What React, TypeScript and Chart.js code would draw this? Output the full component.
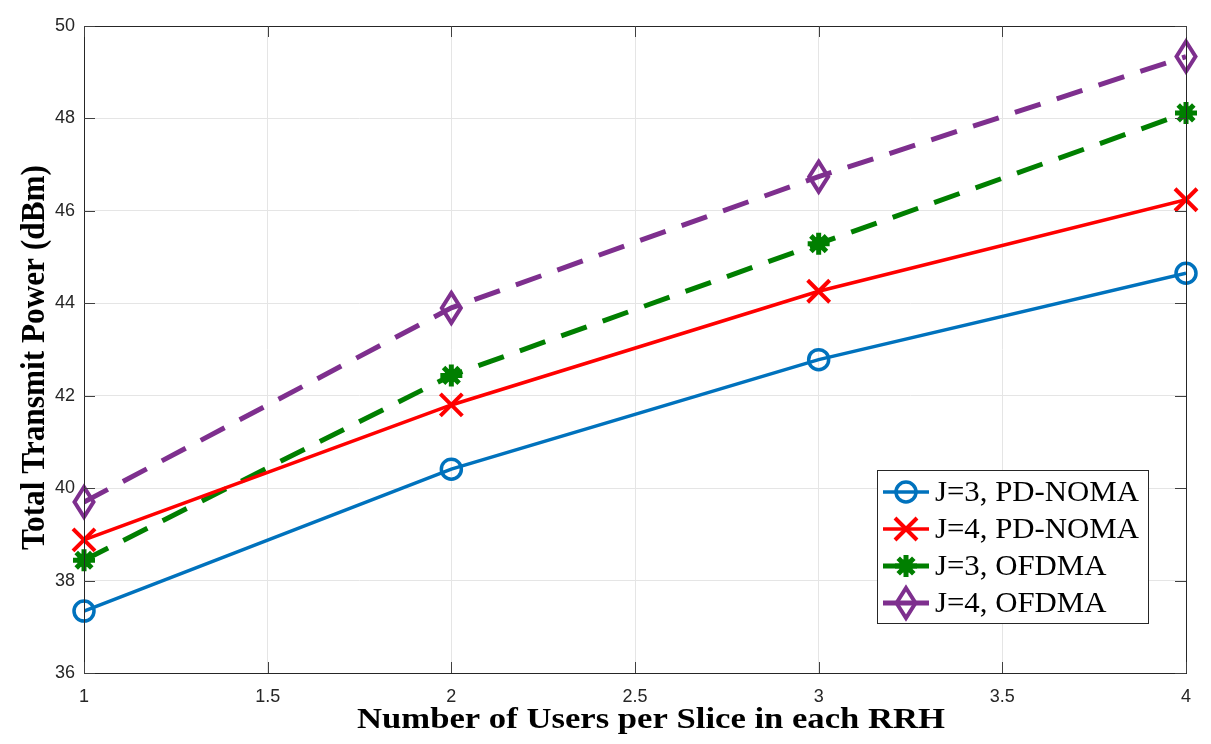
import React, { useEffect, useRef } from "react";
import { Chart, registerables } from "chart.js";

Chart.register(...registerables);

const usersPerSlice = [1, 2, 3, 4];
const j3Noma = [37.34, 40.41, 42.78, 44.65];
const j4Noma = [38.88, 41.8, 44.26, 46.24];
const j3Ofdma = [38.44, 42.44, 45.29, 48.12];
const j4Ofdma = [39.7, 43.9, 46.74, 49.34];
const seriesLabels = ["J=3, PD-NOMA", "J=4, PD-NOMA", "J=3, OFDMA", "J=4, OFDMA"];
const xTicks = [1, 1.5, 2, 2.5, 3, 3.5, 4];
const yTicks = [36, 38, 40, 42, 44, 46, 48, 50];
const xTitle = "Number of Users per Slice in each RRH";
const yTitle = "Total Transmit Power (dBm)";

const BLUE = "#0072BD";
const RED = "#FF0000";
const GREEN = "#007F00";
const PURPLE = "#7E2F8E";
const SERIF = "'Liberation Serif', 'Times New Roman', serif";

type MarkerKind = "circle" | "cross" | "star" | "diamond";

function drawMarker(ctx: CanvasRenderingContext2D, kind: MarkerKind, x: number, y: number, color: string) {
  ctx.save();
  ctx.strokeStyle = color;
  ctx.fillStyle = color;
  ctx.setLineDash([]);
  ctx.lineCap = "butt";
  ctx.lineJoin = "miter";
  if (kind === "circle") {
    ctx.lineWidth = 3.5;
    ctx.beginPath();
    ctx.arc(x, y, 10, 0, Math.PI * 2);
    ctx.stroke();
  } else if (kind === "cross") {
    ctx.lineWidth = 4;
    const r = 11;
    ctx.beginPath();
    ctx.moveTo(x - r, y - r);
    ctx.lineTo(x + r, y + r);
    ctx.moveTo(x + r, y - r);
    ctx.lineTo(x - r, y + r);
    ctx.stroke();
  } else if (kind === "star") {
    ctx.lineWidth = 5;
    const r = 11;
    ctx.beginPath();
    for (let i = 0; i < 4; i++) {
      const a = (i * Math.PI) / 4;
      ctx.moveTo(x - r * Math.cos(a), y - r * Math.sin(a));
      ctx.lineTo(x + r * Math.cos(a), y + r * Math.sin(a));
    }
    ctx.stroke();
    ctx.beginPath();
    ctx.arc(x, y, 7, 0, Math.PI * 2);
    ctx.fill();
  } else {
    ctx.lineWidth = 4;
    const rx = 9.5;
    const ry = 15;
    ctx.beginPath();
    ctx.moveTo(x, y - ry);
    ctx.lineTo(x + rx, y);
    ctx.lineTo(x, y + ry);
    ctx.lineTo(x - rx, y);
    ctx.closePath();
    ctx.stroke();
  }
  ctx.restore();
}

// Draws text starting at (x, y) stretched horizontally so it spans `width` pixels.
function fitText(ctx: CanvasRenderingContext2D, text: string, x: number, y: number, width: number) {
  const w = ctx.measureText(text).width;
  ctx.save();
  ctx.translate(x, y);
  ctx.scale(width / w, 1);
  ctx.fillText(text, 0, 0);
  ctx.restore();
}

const markerKinds: MarkerKind[] = ["circle", "cross", "star", "diamond"];
const colors = [BLUE, RED, GREEN, PURPLE];
const dashes = [[], [], [27, 17], [27, 17]];

const App: React.FC = () => {
  const canvasRef = useRef<HTMLCanvasElement | null>(null);

  useEffect(() => {
    if (!canvasRef.current) return;
    const values = [j3Noma, j4Noma, j3Ofdma, j4Ofdma];

    const framePlugin = {
      id: "frameAndLegend",
      afterDatasetsDraw(chart: any) {
        const ctx: CanvasRenderingContext2D = chart.ctx;
        const { left, right, top, bottom } = chart.chartArea;
        const xs = chart.scales.x;
        const ys = chart.scales.y;

        // markers on the data points
        values.forEach((vals, i) => {
          vals.forEach((v, k) => {
            drawMarker(ctx, markerKinds[i], xs.getPixelForValue(usersPerSlice[k]), ys.getPixelForValue(v), colors[i]);
          });
        });

        // axes box
        ctx.save();
        ctx.strokeStyle = "#262626";
        ctx.lineWidth = 1;
        ctx.setLineDash([]);
        ctx.strokeRect(Math.round(left) + 0.5, Math.round(top) + 0.5, Math.round(right - left), Math.round(bottom - top));

        // inward tick marks on all four sides
        ctx.strokeStyle = "#404040";
        const tl = 11;
        xTicks.forEach((t) => {
          const px = Math.round(xs.getPixelForValue(t)) + 0.5;
          ctx.beginPath();
          ctx.moveTo(px, bottom);
          ctx.lineTo(px, bottom - tl);
          ctx.moveTo(px, top);
          ctx.lineTo(px, top + tl);
          ctx.stroke();
        });
        yTicks.forEach((t) => {
          const py = Math.round(ys.getPixelForValue(t)) + 0.5;
          ctx.beginPath();
          ctx.moveTo(left, py);
          ctx.lineTo(left + tl, py);
          ctx.moveTo(right, py);
          ctx.lineTo(right - tl, py);
          ctx.stroke();
        });
        ctx.restore();

        // axis titles
        ctx.save();
        ctx.fillStyle = "#000000";
        ctx.textBaseline = "alphabetic";
        ctx.textAlign = "left";
        ctx.font = `bold 30px ${SERIF}`;
        fitText(ctx, xTitle, 357, 728, 588);
        ctx.translate(44, 550);
        ctx.scale(1.12, 1);
        ctx.rotate(-Math.PI / 2);
        ctx.font = `bold 31px ${SERIF}`;
        const yw = ctx.measureText(yTitle).width;
        ctx.scale(385 / yw, 1);
        ctx.fillText(yTitle, 0, 0);
        ctx.restore();

        // legend box
        const bx = 877, by = 470, bw = 271, bh = 153;
        ctx.save();
        ctx.fillStyle = "#ffffff";
        ctx.fillRect(bx, by, bw, bh);
        ctx.strokeStyle = "#262626";
        ctx.lineWidth = 1;
        ctx.strokeRect(bx + 0.5, by + 0.5, bw, bh);
        const rowY = [492, 529, 566, 603];
        const textW = [204, 204, 172, 172];
        ctx.font = `29px ${SERIF}`;
        ctx.textBaseline = "middle";
        ctx.textAlign = "left";
        seriesLabels.forEach((lab, i) => {
          const y = rowY[i];
          ctx.strokeStyle = colors[i];
          ctx.lineWidth = i < 2 ? 3.5 : 5;
          ctx.setLineDash([]);
          ctx.beginPath();
          ctx.moveTo(883, y);
          ctx.lineTo(929, y);
          ctx.stroke();
          drawMarker(ctx, markerKinds[i], 906, y, colors[i]);
          ctx.fillStyle = "#000000";
          const w = ctx.measureText(lab).width;
          fitText(ctx, lab, 935, y + 1, i < 2 ? textW[i] : w * (204 / ctx.measureText(seriesLabels[0]).width));
        });
        ctx.restore();
      },
    };

    const chart = new Chart(canvasRef.current, {
      type: "line",
      data: {
        datasets: values.map((vals, i) => ({
          label: seriesLabels[i],
          data: vals.map((v, k) => ({ x: usersPerSlice[k], y: v })),
          borderColor: colors[i],
          backgroundColor: colors[i],
          borderWidth: i < 2 ? 3.5 : 5,
          borderDash: dashes[i],
          borderCapStyle: "butt",
          pointRadius: 0,
          tension: 0,
          fill: false,
        })),
      },
      options: {
        animation: false,
        responsive: false,
        maintainAspectRatio: false,
        layout: { padding: { top: 26, right: 25, left: 0, bottom: 0 } },
        plugins: {
          legend: { display: false },
          tooltip: { enabled: false },
        },
        scales: {
          x: {
            type: "linear",
            min: 1,
            max: 4,
            afterBuildTicks: (scale: any) => {
              scale.ticks = xTicks.map((v) => ({ value: v }));
            },
            afterFit: (scale: any) => {
              scale.height = 71;
            },
            grid: { color: "#e5e5e5", lineWidth: 1, drawTicks: false },
            border: { display: false },
            ticks: {
              padding: 13,
              color: "#262626",
              font: { family: "'Liberation Sans', Arial, sans-serif", size: 18 },
              maxRotation: 0,
              callback: (v: any) => String(v),
            },
            title: { display: false },
          },
          y: {
            type: "linear",
            min: 36,
            max: 50,
            afterBuildTicks: (scale: any) => {
              scale.ticks = yTicks.map((v) => ({ value: v }));
            },
            afterFit: (scale: any) => {
              scale.width = 84;
            },
            grid: { color: "#e5e5e5", lineWidth: 1, drawTicks: false },
            border: { display: false },
            ticks: {
              padding: 9,
              color: "#262626",
              font: { family: "'Liberation Sans', Arial, sans-serif", size: 18 },
              callback: (v: any) => String(v),
            },
            title: { display: false },
          },
        },
      },
      plugins: [framePlugin],
    } as any);

    return () => chart.destroy();
  }, []);

  return (
    <div style={{ position: "fixed", left: 0, top: 0, width: 1211, height: 744, background: "#ffffff" }}>
      <canvas ref={canvasRef} width={1211} height={744} style={{ display: "block", width: 1211, height: 744 }} />
    </div>
  );
};

export default App;
